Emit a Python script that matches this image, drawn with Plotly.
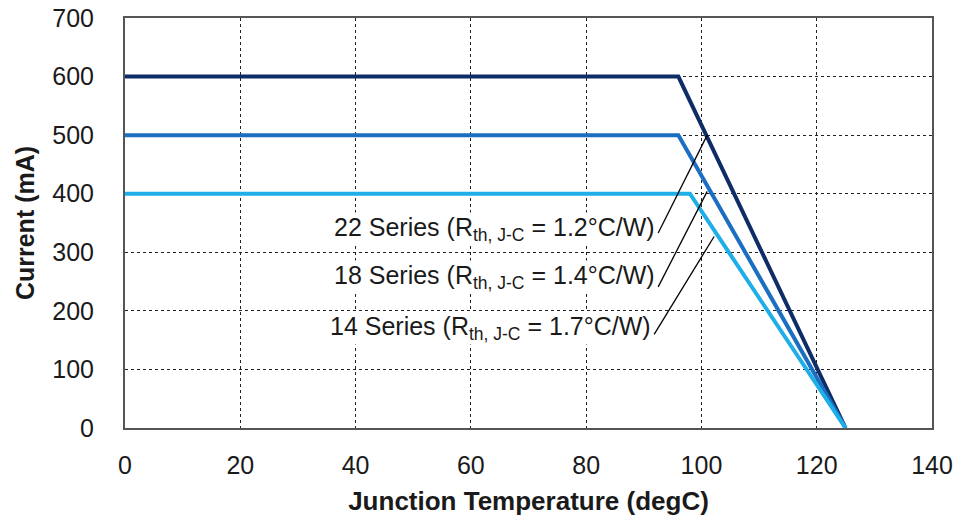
import plotly.graph_objects as go

# derating curves: flat current up to knee temperature, then linear to zero at Tj max
series_names = ["22 Series", "18 Series", "14 Series"]
rth_values = ["1.2", "1.4", "1.7"]
max_current = [600, 500, 400]
knee_temp = [96, 96, 98]
tj_max = [125, 125, 125]
start_temp = [0, 0, 0]

colors = ["#0E2C66", "#1A6FC0", "#1EAEE8"]

# label leaders: (text end) -> (curve point)
leader_x0 = [92.5, 92.5, 91.8]
leader_y0 = [333, 241, 160]
leader_x1 = [101.0, 101.0, 102.2]
leader_y1 = [500, 404, 327]
label_y = [340, 258, 170]

fig = go.Figure()

for i in range(len(series_names)):
    fig.add_trace(go.Scatter(
        x=[start_temp[i], knee_temp[i], tj_max[i]],
        y=[max_current[i], max_current[i], 0],
        mode="lines",
        line=dict(color=colors[i], width=4),
        name=series_names[i],
        showlegend=False,
    ))

for i in range(len(series_names)):
    fig.add_shape(type="line", x0=leader_x0[i], y0=leader_y0[i], x1=leader_x1[i], y1=leader_y1[i],
                  xref="x", yref="y", line=dict(color="black", width=1.3))
    fig.add_annotation(
        x=leader_x0[i] - 0.4, y=label_y[i], xref="x", yref="y",
        xanchor="right", yanchor="middle", showarrow=False,
        text=f"{series_names[i]} (R<sub>th, J-C</sub> = {rth_values[i]}°C/W)",
        font=dict(family="Liberation Sans, Arial, sans-serif", size=25, color="#1a1a1a"),
        bgcolor="white", borderpad=0,
    )

axis_font = dict(family="Liberation Sans, Arial, sans-serif", size=25, color="#1a1a1a")
xtitle_font = dict(family="Liberation Sans, Arial, sans-serif", size=26, color="#1a1a1a")
ytitle_font = dict(family="Liberation Sans, Arial, sans-serif", size=25, color="#1a1a1a")

fig.update_xaxes(
    range=[0, 140], dtick=20, tick0=0,
    showgrid=True, gridcolor="#222222", griddash="dot", gridwidth=1,
    showline=True, linecolor="#555555", linewidth=2, mirror=True,
    zeroline=False, ticks="", tickfont=axis_font, ticklabelstandoff=14,
    automargin=False, ticklabeloverflow="allow",
    title=dict(text="<b>Junction Temperature (degC)</b>", font=xtitle_font, standoff=14),
)
fig.update_yaxes(
    range=[0, 700], dtick=100, tick0=0,
    showgrid=True, gridcolor="#222222", griddash="dot", gridwidth=1,
    showline=True, linecolor="#555555", linewidth=2, mirror=True,
    zeroline=False, ticks="", tickfont=axis_font, ticklabelstandoff=24,
    automargin=False, ticklabeloverflow="allow",
    title=dict(text="<b>Current (mA)</b>", font=ytitle_font, standoff=11),
)

fig.update_layout(
    width=957, height=517,
    margin=dict(l=125, r=25, t=18, b=89),
    plot_bgcolor="white", paper_bgcolor="white",
)

# drop the default 8px page margin so the figure fills the window
fig.write_html("out.html", config={"displayModeBar": False},
               post_script="document.body.style.margin='0';")
